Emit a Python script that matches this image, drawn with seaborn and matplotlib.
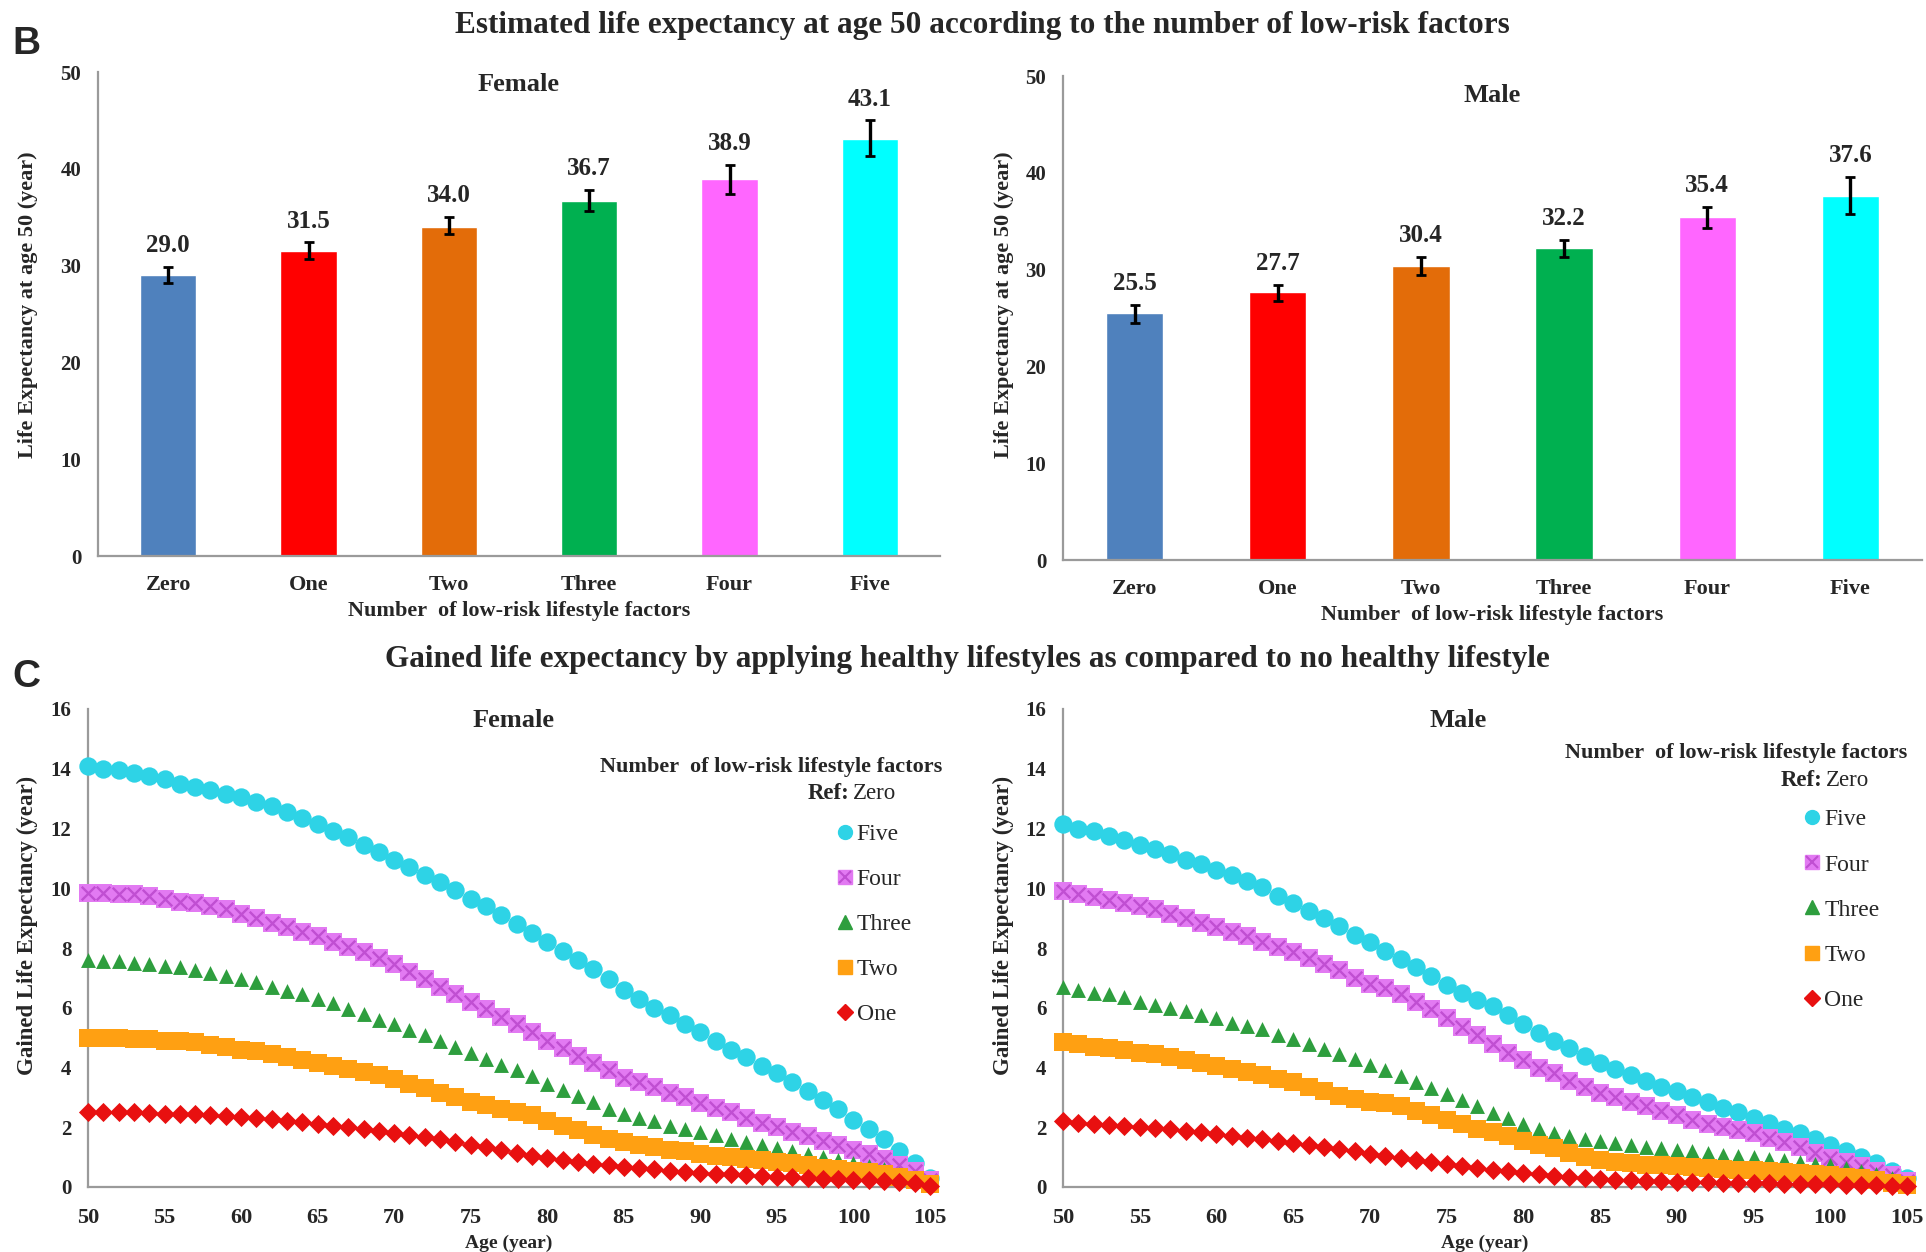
import numpy as np
import pandas as pd
import matplotlib
matplotlib.use("Agg")
import matplotlib.pyplot as plt
from matplotlib.lines import Line2D
import seaborn as sns

# ---------------- data ----------------
categories = ["Zero", "One", "Two", "Three", "Four", "Five"]
female_le = [29.0, 31.5, 34.0, 36.7, 38.9, 43.1]
female_lo = [28.25, 30.7, 33.3, 35.6, 37.4, 41.3]
female_hi = [29.85, 32.4, 35.05, 37.8, 40.4, 45.0]
male_le = [25.5, 27.7, 30.4, 32.2, 35.4, 37.6]
male_lo = [24.5, 26.8, 29.4, 31.3, 34.3, 35.7]
male_hi = [26.35, 28.4, 31.3, 33.1, 36.5, 39.6]

ages = list(range(50, 106))

female_five = [14.1, 14.0, 13.95, 13.85, 13.75, 13.65, 13.5, 13.4, 13.3, 13.15,
               13.05, 12.9, 12.75, 12.55, 12.35, 12.15, 11.9, 11.7, 11.45, 11.2,
               10.95, 10.7, 10.45, 10.2, 9.95, 9.65, 9.4, 9.1, 8.8, 8.5,
               8.2, 7.9, 7.6, 7.3, 6.95, 6.6, 6.3, 6.0, 5.75, 5.45,
               5.2, 4.9, 4.6, 4.35, 4.05, 3.8, 3.5, 3.2, 2.9, 2.6,
               2.25, 1.95, 1.6, 1.2, 0.8, 0.3]
female_four = [9.85, 9.85, 9.8, 9.8, 9.75, 9.65, 9.55, 9.5, 9.4, 9.3,
               9.15, 9.0, 8.85, 8.7, 8.55, 8.4, 8.2, 8.05, 7.85, 7.65,
               7.45, 7.2, 6.95, 6.7, 6.45, 6.2, 5.95, 5.7, 5.45, 5.2,
               4.9, 4.65, 4.4, 4.15, 3.9, 3.65, 3.5, 3.35, 3.15, 3.0,
               2.8, 2.65, 2.5, 2.3, 2.15, 2.0, 1.85, 1.7, 1.55, 1.4,
               1.25, 1.1, 0.95, 0.75, 0.55, 0.25]
female_three = [7.6, 7.55, 7.55, 7.5, 7.45, 7.4, 7.35, 7.25, 7.15, 7.05,
                6.95, 6.85, 6.7, 6.55, 6.45, 6.3, 6.15, 5.95, 5.8, 5.6,
                5.45, 5.25, 5.1, 4.9, 4.7, 4.5, 4.3, 4.1, 3.9, 3.7,
                3.45, 3.25, 3.05, 2.85, 2.6, 2.45, 2.3, 2.2, 2.05, 1.95,
                1.85, 1.75, 1.6, 1.5, 1.4, 1.3, 1.2, 1.1, 1.0, 0.9,
                0.8, 0.7, 0.6, 0.45, 0.3, 0.15]
female_two = [5.0, 5.0, 5.0, 4.95, 4.95, 4.9, 4.9, 4.85, 4.75, 4.7,
              4.6, 4.55, 4.45, 4.35, 4.25, 4.15, 4.05, 3.95, 3.85, 3.75,
              3.6, 3.45, 3.3, 3.15, 3.0, 2.85, 2.75, 2.6, 2.5, 2.4,
              2.2, 2.05, 1.9, 1.75, 1.6, 1.5, 1.4, 1.35, 1.25, 1.2,
              1.1, 1.05, 1.0, 0.95, 0.9, 0.85, 0.8, 0.72, 0.65, 0.6,
              0.55, 0.5, 0.42, 0.35, 0.25, 0.1]
female_one = [2.5, 2.5, 2.5, 2.5, 2.48, 2.45, 2.45, 2.43, 2.4, 2.37,
              2.35, 2.32, 2.28, 2.22, 2.17, 2.12, 2.05, 2.0, 1.93, 1.87,
              1.8, 1.73, 1.67, 1.6, 1.5, 1.42, 1.33, 1.23, 1.13, 1.03,
              0.97, 0.92, 0.85, 0.78, 0.72, 0.67, 0.63, 0.6, 0.55, 0.5,
              0.47, 0.45, 0.42, 0.4, 0.37, 0.35, 0.32, 0.3, 0.28, 0.27,
              0.25, 0.23, 0.2, 0.18, 0.15, 0.05]

male_five = [12.15, 12.0, 11.9, 11.75, 11.6, 11.45, 11.3, 11.15, 10.95, 10.8,
             10.6, 10.45, 10.25, 10.05, 9.75, 9.5, 9.25, 9.0, 8.75, 8.45,
             8.2, 7.9, 7.63, 7.35, 7.05, 6.75, 6.5, 6.25, 6.05, 5.75,
             5.45, 5.15, 4.9, 4.65, 4.4, 4.15, 3.95, 3.75, 3.55, 3.35,
             3.2, 3.0, 2.85, 2.65, 2.5, 2.3, 2.15, 1.95, 1.8, 1.6,
             1.4, 1.2, 1.0, 0.8, 0.55, 0.3]
male_four = [9.9, 9.8, 9.7, 9.6, 9.5, 9.4, 9.3, 9.15, 9.0, 8.85,
             8.7, 8.55, 8.4, 8.2, 8.05, 7.85, 7.65, 7.47, 7.25, 7.0,
             6.8, 6.65, 6.47, 6.2, 5.95, 5.65, 5.35, 5.1, 4.8, 4.5,
             4.25, 4.0, 3.8, 3.55, 3.35, 3.15, 3.0, 2.85, 2.7, 2.55,
             2.4, 2.25, 2.1, 2.0, 1.9, 1.8, 1.65, 1.5, 1.35, 1.15,
             0.97, 0.85, 0.7, 0.55, 0.4, 0.2]
male_three = [6.7, 6.6, 6.5, 6.45, 6.35, 6.2, 6.1, 6.0, 5.9, 5.75,
              5.65, 5.5, 5.4, 5.3, 5.1, 4.95, 4.8, 4.63, 4.45, 4.3,
              4.1, 3.9, 3.73, 3.5, 3.3, 3.1, 2.9, 2.7, 2.47, 2.3,
              2.1, 1.95, 1.8, 1.7, 1.6, 1.53, 1.47, 1.4, 1.35, 1.3,
              1.25, 1.2, 1.13, 1.07, 1.03, 1.0, 0.95, 0.9, 0.85, 0.78,
              0.73, 0.65, 0.55, 0.45, 0.3, 0.15]
male_two = [4.85, 4.8, 4.7, 4.65, 4.6, 4.5, 4.45, 4.35, 4.25, 4.15,
            4.05, 3.95, 3.85, 3.75, 3.6, 3.5, 3.35, 3.2, 3.05, 2.95,
            2.85, 2.8, 2.7, 2.55, 2.4, 2.25, 2.1, 1.95, 1.83, 1.7,
            1.55, 1.4, 1.3, 1.15, 1.0, 0.9, 0.83, 0.8, 0.75, 0.72,
            0.7, 0.67, 0.63, 0.6, 0.58, 0.57, 0.53, 0.5, 0.47, 0.43,
            0.4, 0.35, 0.3, 0.25, 0.15, 0.08]
male_one = [2.2, 2.15, 2.1, 2.07, 2.05, 2.0, 1.97, 1.93, 1.88, 1.83,
            1.78, 1.72, 1.65, 1.6, 1.53, 1.47, 1.4, 1.35, 1.28, 1.2,
            1.12, 1.05, 0.97, 0.9, 0.83, 0.77, 0.7, 0.63, 0.57, 0.52,
            0.47, 0.42, 0.37, 0.33, 0.3, 0.27, 0.23, 0.22, 0.2, 0.2,
            0.18, 0.17, 0.16, 0.15, 0.14, 0.13, 0.12, 0.11, 0.1, 0.1,
            0.09, 0.08, 0.07, 0.06, 0.05, 0.02]

series_order = ["Five", "Four", "Three", "Two", "One"]
female_series = {"Five": female_five, "Four": female_four, "Three": female_three,
                 "Two": female_two, "One": female_one}
male_series = {"Five": male_five, "Four": male_four, "Three": male_three,
               "Two": male_two, "One": male_one}

# ---------------- style ----------------
bar_colors = ["#4F81BD", "#FF0000", "#E36C09", "#00B050", "#FF66FF", "#00FFFF"]
line_colors = {"Five": "#2ED3E6", "Four": "#E27AF2", "Three": "#2E9E3E",
               "Two": "#FFA012", "One": "#E81010"}
line_markers = {"Five": "o", "Four": "s", "Three": "^", "Two": "s", "One": "D"}
marker_sizes = {"Five": 175, "Four": 175, "Three": 115, "Two": 175, "One": 95}

sns.set_style("white")
plt.rcParams["font.family"] = ["Liberation Serif", "DejaVu Serif"]
plt.rcParams["font.weight"] = "bold"
plt.rcParams["axes.labelweight"] = "bold"

SPINE = "#9A9A9A"

fig = plt.figure(figsize=(19.26, 12.52), dpi=100)
W, H = 1926, 1252


def px_axes(x0, y0, x1, y1):
    return fig.add_axes([x0 / W, 1 - y1 / H, (x1 - x0) / W, (y1 - y0) / H])


def style_spines(ax):
    for s in ["top", "right"]:
        ax.spines[s].set_visible(False)
    for s in ["left", "bottom"]:
        ax.spines[s].set_color(SPINE)
        ax.spines[s].set_linewidth(1.6)


def bar_panel(ax, vals, lo, hi, title, title_y, ylab_xy):
    df = pd.DataFrame({"cat": categories, "val": vals})
    sns.barplot(data=df, x="cat", y="val", hue="cat", order=categories,
                hue_order=categories, palette=bar_colors, width=0.4,
                legend=False, ax=ax, saturation=1)
    vals_a = np.array(vals)
    yerr = [vals_a - np.array(lo), np.array(hi) - vals_a]
    ax.errorbar(np.arange(len(categories)), vals_a, yerr=yerr, fmt="none",
                ecolor="black", elinewidth=2.4, capsize=3.5, capthick=2.0,
                zorder=5)
    for i, (v, h) in enumerate(zip(vals, hi)):
        ax.text(i, h + 2.2, f"{v:.1f}", ha="center", va="center",
                fontsize=18, fontweight="bold")
    ax.set_xlim(-0.5, 5.5)
    ax.set_ylim(0, 50)
    ax.set_yticks(range(0, 51, 10))
    ax.set_xticks(range(6))
    ax.set_xticklabels(categories)
    ax.set_xticks(np.arange(-0.5, 6.0, 1.0), minor=True)
    ax.tick_params(axis="x", which="major", length=0, labelsize=16, pad=14)
    ax.tick_params(axis="x", which="minor", length=7, color=SPINE, width=1.2,
                   direction="out")
    ax.tick_params(axis="y", length=6, color=SPINE, width=1.2, labelsize=15,
                   direction="out", pad=6)
    ax.set_xlabel("Number  of low-risk lifestyle factors", fontsize=16,
                  labelpad=4)
    ax.set_ylabel("Life Expectancy at age 50 (year)", fontsize=16)
    ax.yaxis.set_label_coords(*ylab_xy)
    ax.text(0.5, title_y, title, transform=ax.transAxes, ha="center",
            va="center", fontsize=19, fontweight="bold")
    style_spines(ax)


def line_panel(ax, series, title, title_x, leg_title_xy, ref_xy, leg_anchor,
               ylab_xy):
    for name in series_order:
        vals = series[name]
        if name == "Four":
            sns.scatterplot(x=ages, y=vals, marker="s", color=line_colors[name],
                            s=marker_sizes[name], linewidth=0, ax=ax,
                            clip_on=False, zorder=3, legend=False)
            sns.scatterplot(x=ages, y=vals, marker="x", color="#C04FD2",
                            s=95, linewidth=1.7, ax=ax, clip_on=False,
                            zorder=3, legend=False)
        else:
            sns.scatterplot(x=ages, y=vals, marker=line_markers[name],
                            color=line_colors[name], s=marker_sizes[name],
                            linewidth=0, ax=ax, clip_on=False, zorder=3,
                            legend=False)
    ax.set_xlim(50, 105)
    ax.set_ylim(0, 16)
    ax.set_xticks(range(50, 106, 5))
    ax.set_yticks(range(0, 17, 2))
    ax.tick_params(axis="x", length=0, labelsize=16, pad=15)
    ax.tick_params(axis="y", length=6, color=SPINE, width=1.2, labelsize=15,
                   direction="out", pad=6)
    ax.set_xlabel("Age (year)", fontsize=14, labelpad=5)
    ax.set_ylabel("Gained Life Expectancy (year)", fontsize=16.5)
    ax.yaxis.set_label_coords(*ylab_xy)
    ax.text(title_x, 0.975, title, transform=ax.transAxes, ha="center",
            va="center", fontsize=19, fontweight="bold")
    ax.text(leg_title_xy[0], leg_title_xy[1],
            "Number  of low-risk lifestyle factors", transform=ax.transAxes,
            ha="right", va="center", fontsize=16, fontweight="bold")
    tz = ax.text(ref_xy[0], ref_xy[1], "Zero", transform=ax.transAxes,
                 ha="right", va="center", fontsize=16.5, fontweight="normal")
    fig.canvas.draw()
    bb = tz.get_window_extent().transformed(ax.transAxes.inverted())
    ax.text(bb.x0 - 0.004, ref_xy[1], "Ref:", transform=ax.transAxes,
            ha="right", va="center", fontsize=16.5, fontweight="bold")
    handles = []
    for name in series_order:
        if name == "Four":
            h = (Line2D([], [], marker="s", color=line_colors[name],
                        linestyle="none", markersize=10),
                 Line2D([], [], marker="x", color="#C04FD2", linestyle="none",
                        markersize=8, markeredgewidth=1.5))
        else:
            h = Line2D([], [], marker=line_markers[name],
                       color=line_colors[name], linestyle="none",
                       markersize=10 if name != "One" else 8)
        handles.append(h)
    ax.legend(handles, series_order, loc="upper left",
              bbox_to_anchor=leg_anchor, frameon=False,
              prop={"family": ["Liberation Serif"], "weight": "normal",
                    "size": 17},
              labelspacing=1.0, handlelength=0.7, handletextpad=0.15,
              borderpad=0, borderaxespad=0)
    style_spines(ax)


ax_b1 = px_axes(98, 72, 940, 556)
ax_b2 = px_axes(1063, 76, 1922, 560)
ax_c1 = px_axes(88, 709, 930, 1187)
ax_c2 = px_axes(1063, 709, 1907, 1187)

bar_panel(ax_b1, female_le, female_lo, female_hi, "Female", 0.975,
          (-0.071, 0.52))
bar_panel(ax_b2, male_le, male_lo, male_hi, "Male", 0.96, (-0.057, 0.528))

line_panel(ax_c1, female_series, "Female", 0.505, (1.015, 0.879), (0.96, 0.824),
           (0.889, 0.761), (-0.059, 0.548))
line_panel(ax_c2, male_series, "Male", 0.468, (1.0, 0.908), (0.955, 0.851),
           (0.878, 0.791), (-0.058, 0.548))

fig.text(12 / W, 1 - 44 / H, "B", fontsize=28, fontweight="bold",
         family=["Liberation Sans", "DejaVu Sans"], va="center", ha="left")
fig.text(12 / W, 1 - 677 / H, "C", fontsize=28, fontweight="bold",
         family=["Liberation Sans", "DejaVu Sans"], va="center", ha="left")
fig.text(982 / W, 1 - 25 / H,
         "Estimated life expectancy at age 50 according to the number of low-risk factors",
         fontsize=22.5, fontweight="bold", ha="center", va="center")
fig.text(967 / W, 1 - 660 / H,
         "Gained life expectancy by applying healthy lifestyles as compared to no healthy lifestyle",
         fontsize=22.5, fontweight="bold", ha="center", va="center")

fig.savefig("out.png", dpi=100)
